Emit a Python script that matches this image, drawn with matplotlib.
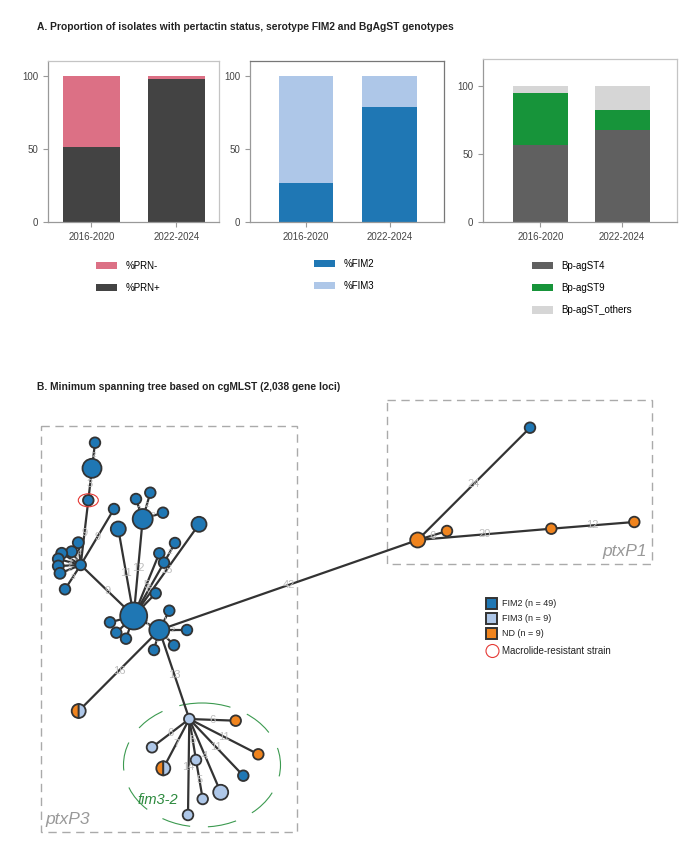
import numpy as np
import matplotlib.pyplot as plt
from matplotlib import font_manager
from matplotlib.patches import Circle, Wedge, Ellipse, Rectangle

fonts = {f.name for f in font_manager.fontManager.ttflist}
base = 'Liberation Sans Narrow' if 'Liberation Sans Narrow' in fonts else 'Liberation Sans'
plt.rcParams['font.family'] = [base, 'DejaVu Sans']

# ---- panel A data (percent of isolates) ----
periods = ['2016-2020', '2022-2024']
prn_pos = [51.5, 97.5]
prn_neg = [48.5, 2.5]
fim2 = [26.7, 78.4]
fim3 = [73.3, 21.6]
st4 = [56.5, 67.5]
st9 = [38.8, 15.0]
st_other = [4.7, 17.5]

# ---- panel B: minimum spanning tree layout ----
node_x = [133.7, 159.3, 80.7, 88.3, 92.0, 95.0, 114.0,
          78.3, 71.7, 61.7, 58.3, 58.3, 60.0, 65.0,
          118.3, 142.7, 136.0, 150.3, 163.0, 155.7, 159.3, 164.0, 175.0, 199.0,
          110.0, 116.3, 126.0, 169.3, 187.0, 174.0, 154.0,
          78.7, 189.3, 235.7, 258.3, 243.3, 220.7, 196.0, 202.7, 188.0, 163.3, 152.0,
          417.7, 530.0, 447.0, 551.3, 634.3]
node_y = [616.0, 630.0, 565.0, 500.3, 468.3, 442.7, 509.0,
          542.7, 551.7, 553.3, 559.0, 566.0, 573.3, 589.3,
          529.0, 519.0, 499.0, 492.7, 512.7, 593.3, 553.3, 562.7, 543.0, 524.3,
          622.3, 632.7, 638.7, 610.7, 630.0, 645.3, 650.0,
          711.0, 719.0, 720.7, 754.3, 775.7, 792.3, 760.0, 799.0, 815.0, 768.3, 747.3,
          540.0, 427.7, 531.0, 528.7, 522.0]
node_r = [13.5, 10, 5.3, 5.3, 9.5, 5.3, 5.3,
          5.5, 5.5, 5.5, 5.5, 5.5, 5.5, 5.3,
          7.5, 10, 5.3, 5.3, 5.3, 5.3, 5.3, 5.3, 5.3, 7.5,
          5.3, 5.3, 5.3, 5.3, 5.3, 5.3, 5.3,
          7, 5.3, 5.3, 5.3, 5.3, 7.5, 5.3, 5.3, 5.3, 7, 5.3,
          7.5, 5.3, 5.3, 5.3, 5.3]
node_kind = ['F2'] * 31 + ['HALF', 'F3', 'ND', 'ND', 'F2', 'F3', 'F3', 'F3', 'F3', 'HALF', 'F3',
                           'ND', 'F2', 'ND', 'ND', 'ND']
edge_from = [2, 3, 4, 2, 2, 2, 2, 2, 2, 2, 2,
             0, 0, 0, 15, 15, 15, 0, 0, 0, 21, 0,
             0, 0, 0, 0, 1, 1, 1, 1, 1, 1, 1,
             32, 32, 32, 32, 32, 37, 32, 32, 32,
             42, 42, 42, 45]
edge_to = [3, 4, 5, 6, 7, 8, 9, 10, 11, 12, 13,
           2, 14, 15, 16, 17, 18, 19, 20, 21, 22, 23,
           24, 25, 26, 1, 27, 28, 29, 30, 31, 32, 42,
           33, 34, 35, 36, 37, 38, 39, 40, 41,
           43, 44, 45, 46]
edge_label = ['9', '3', '2', '9', '4', '2', '2', '2', '2', '2', '3',
              '9', '11', '12', '2', '2', '2', '', '5', '6', '2', '15',
              '1', '1', '1', '1', '1', '2', '1', '1', '16', '13', '42',
              '6', '11', '11', '4', '5', '5', '14', '7', '6',
              '24', '6', '20', '12']
legend_b = ['FIM2 (n = 49)', 'FIM3 (n = 9)', 'ND (n = 9)']

c_prn_neg, c_prn_pos = '#dc7085', '#434343'
c_fim2, c_fim3, c_nd = '#1f77b4', '#aec7e8', '#f0841e'
c_st4, c_st9, c_sto = '#606060', '#17943a', '#d6d6d6'
kind_color = {'F2': c_fim2, 'F3': c_fim3, 'ND': c_nd}

W, H = 700, 855
fig = plt.figure(figsize=(7, 8.55), dpi=100)


def fx(x):
    return x / W


def fy(y):
    return 1 - y / H


def box(l, t, r, b):
    return [fx(l), fy(b), fx(r) - fx(l), fy(t) - fy(b)]


def style(ax, ytop, xl):
    ax.set_ylim(0, ytop)
    ax.set_xlim(*xl)
    ax.set_xticks([0, 1])
    ax.set_xticklabels(periods)
    ax.set_yticks([0, 50, 100])
    ax.tick_params(colors='#999999', labelcolor='#444444', labelsize=7, length=3.5, width=0.8)
    for s in ax.spines.values():
        s.set_linewidth(0.9)
    for s in ['left', 'bottom']:
        ax.spines[s].set_color('#999999')
    for s in ['top', 'right']:
        ax.spines[s].set_color('#c4c4c4')


def leg(ax, handles, labels, x, y):
    ax.legend(handles, labels, loc='upper left', bbox_to_anchor=(fx(x), fy(y)),
              bbox_transform=fig.transFigure, frameon=False, fontsize=7,
              handlelength=2.2, handleheight=0.8, labelspacing=1.25,
              handletextpad=0.8, borderpad=0, borderaxespad=0)


x = np.arange(len(periods))
ax1 = fig.add_axes(box(48, 61, 219, 222))
b1 = ax1.bar(x, prn_pos, 0.67, color=c_prn_pos)
b2 = ax1.bar(x, prn_neg, 0.67, bottom=prn_pos, color=c_prn_neg)
style(ax1, 110, (-0.51, 1.5))
leg(ax1, [b2, b1], ['%PRN-', '%PRN+'], 96, 261)

ax2 = fig.add_axes(box(250, 61, 444, 222))
b1 = ax2.bar(x, fim2, 0.65, color=c_fim2)
b2 = ax2.bar(x, fim3, 0.65, bottom=fim2, color=c_fim3)
style(ax2, 110, (-0.67, 1.65))
for s in ['top', 'right']:
    ax2.spines[s].set_color('#777777')
leg(ax2, [b1, b2], ['%FIM2', '%FIM3'], 314, 259)

ax3 = fig.add_axes(box(483, 59, 677, 222))
b1 = ax3.bar(x, st4, 0.67, color=c_st4)
b2 = ax3.bar(x, st9, 0.67, bottom=st4, color=c_st9)
b3 = ax3.bar(x, st_other, 0.67, bottom=np.add(st4, st9), color=c_sto)
style(ax3, 120, (-0.70, 1.67))
leg(ax3, [b1, b2, b3], ['Bp-agST4', 'Bp-agST9', 'Bp-agST_others'], 532, 261)

fig.text(fx(37), fy(27), 'A. Proportion of isolates with pertactin status, serotype FIM2 and BgAgST genotypes',
         fontsize=7.4, fontweight='bold', color='#222222', va='center')
fig.text(fx(37), fy(387), 'B. Minimum spanning tree based on cgMLST (2,038 gene loci)',
         fontsize=7.4, fontweight='bold', color='#222222', va='center')

# ---- panel B ----
ax = fig.add_axes(box(0, 395, 700, 855))
ax.set_xlim(0, W)
ax.set_ylim(H, 395)
ax.axis('off')

ax.add_patch(Rectangle((40.7, 426), 256, 406, fill=False, ec='#aaaaaa', lw=1.0, ls=(0, (6, 4))))
ax.add_patch(Rectangle((387, 400), 265, 164, fill=False, ec='#aaaaaa', lw=1.0, ls=(0, (6, 4))))
ax.text(45, 819, 'ptxP3', fontsize=12.5, style='italic', color='#999999', va='center', ha='left')
ax.text(647, 551, 'ptxP1', fontsize=12.5, style='italic', color='#999999', va='center', ha='right')

ax.add_patch(Ellipse((202, 765), 157, 124, fill=False, ec='#3c9a50', lw=0.8, ls=(0, (26, 16))))
ax.text(138, 800, 'fim3-2', fontsize=10.5, style='italic', color='#2d8a3e', va='center', ha='left')

for i, j, lab in zip(edge_from, edge_to, edge_label):
    ax.plot([node_x[i], node_x[j]], [node_y[i], node_y[j]], color='#333333', lw=1.6, zorder=2,
            solid_capstyle='round')
    if lab:
        short = np.hypot(node_x[i] - node_x[j], node_y[i] - node_y[j]) < 30
        ax.text((node_x[i] + node_x[j]) / 2, (node_y[i] + node_y[j]) / 2, lab,
                fontsize=6 if short else 8, color='#bdbdbd', ha='center', va='center', zorder=3)

for xx, yy, r, k in zip(node_x, node_y, node_r, node_kind):
    if k == 'HALF':
        ax.add_patch(Wedge((xx, yy), r, 90, 270, fc=c_nd, ec='#333333', lw=1.3, zorder=4))
        ax.add_patch(Wedge((xx, yy), r, 270, 90, fc=c_fim3, ec='#333333', lw=1.3, zorder=4))
    else:
        ax.add_patch(Circle((xx, yy), r, fc=kind_color[k], ec='#333333', lw=1.3, zorder=4))

ax.add_patch(Ellipse((node_x[3], node_y[3]), 20, 13, fill=False, ec='#e53935', lw=0.8, zorder=5))

for n, (lab, k) in enumerate(zip(legend_b, ['F2', 'F3', 'ND'])):
    ax.add_patch(Rectangle((486, 598 + 15 * n), 11, 11, fc=kind_color[k], ec='#333333', lw=1.4))
    ax.text(502, 603.5 + 15 * n, lab, fontsize=6.5, color='#222222', va='center')
ax.add_patch(Circle((492.5, 651), 6.5, fill=False, ec='#e53935', lw=0.8))
ax.text(502, 651, 'Macrolide-resistant strain', fontsize=7, color='#222222', va='center')

fig.savefig('out.png', dpi=100)
